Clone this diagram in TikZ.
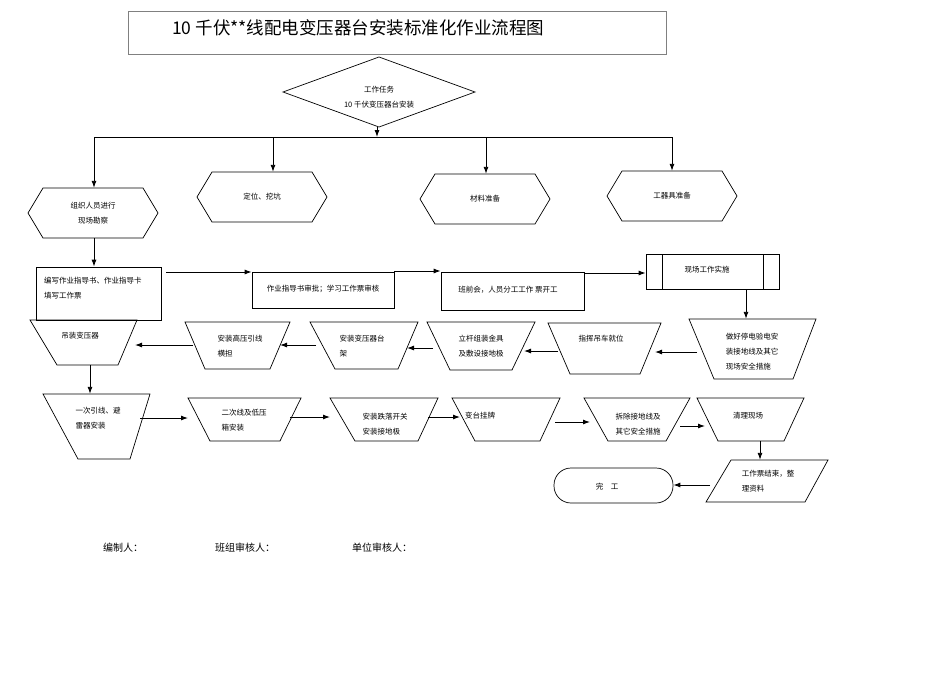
\documentclass[tikz,border=0pt]{standalone}
\usepackage{fontspec}
\newfontfamily\cjk{Noto Sans CJK SC}
\usetikzlibrary{arrows.meta,fit}
\begin{document}
\begin{tikzpicture}[x=1pt,y=-1pt,
  ar/.style={-{Latex[length=7pt,width=5pt]},line width=0.9pt},
  sh/.style={draw,line width=0.7pt},
  tx/.style={font=\cjk\fontsize{7.5}{15}\selectfont,align=left,inner sep=0},
  bx/.style={inner sep=0pt}]
\useasboundingbox (0,0) rectangle (950,672);
\newcommand\tp[7]{\draw[sh] (#2,#4)--(#3,#4)--(#6,#7)--(#5,#7)--cycle;
  \node[bx,fit={(#2,#4) (#3,#7)}] (#1) {};}
\newcommand\hx[5]{\draw[sh] (#2,#4)--(#2+15,#4-25)--(#3-15,#4-25)--(#3,#4)--(#3-15,#4+25)--(#2+15,#4+25)--cycle;
  \node[bx,fit={(#2,#4-25) (#3,#4+25)}] (#1) {}; \node[tx,align=center] at (#1) {#5};}
% title
\node[draw=gray,line width=0.5pt,minimum width=538,minimum height=43,inner sep=0] (title) at (397,32.5) {};
\node[font=\cjk\fontsize{17.5}{19}\selectfont,anchor=west,inner sep=0] (tt) at (172,28) {10 千伏**线配电变压器台安装标准化作业流程图};
% top diamond
\draw[sh] (283,92)--(379,57)--(475,92)--(379,127)--cycle;
\node[bx,fit={(283,57) (475,127)}] (task) {};
\node[tx,align=center] (tasktxt) at (379,97) {工作任务\\10 千伏变压器台安装};
\coordinate (j) at (377,137);
\draw[ar] (task.south -| j) -- (j);
\draw[line width=0.9pt] (94,137) -- (672,137);
% hexagons
\hx{h1}{28}{158}{213}{组织人员进行\\现场勘察}
\hx{h2}{197}{327}{197}{定位、挖坑}
\hx{h3}{420}{550}{199}{材料准备}
\hx{h4}{607}{737}{196}{工器具准备}
\draw[ar] (94,137) -- (h1.north -| 94,0);
\draw[ar] (273,137) -- (h2.north -| 273,0);
\draw[ar] (486,137) -- (h3.north -| 486,0);
\draw[ar] (672,137) -- (h4.north -| 672,0);
% rects
\node[sh,bx,fit={(36,267) (161,320)}] (r1) {};
\node[tx,anchor=north west] at (44,277) {编写作业指导书、作业指导卡\\填写工作票};
\draw[ar] (h1.south -| 94,0) -- (r1.north -| 94,0);
\node[sh,bx,fit={(252,272) (394,308)}] (r2) {};
\node[tx] at (323,289) {作业指导书审批；学习工作票审核};
\node[sh,bx,fit={(441,272) (584,310)}] (r3) {};
\node[tx] at (508,290) {班前会，人员分工工作\ 票开工};
\node[sh,bx,fit={(646,254) (779,289)}] (r4) {};
\draw[sh] (662,254)--(662,289) (763,254)--(763,289);
\node[tx] at (707,270) {现场工作实施};
\draw[ar] (166,272) -- (r2.west |- 0,272);
\draw[ar] (r2.east |- 0,271) -- (r3.west |- 0,271);
\draw[ar] (r3.east |- 0,273) -- (r4.west |- 0,273);
% row 2
\tp{a1}{30}{137}{320}{57}{118}{365}
\node[tx] at (80,336) {吊装变压器};
\tp{a2}{185}{290}{322}{205}{270}{369}
\node[tx] at (240,346) {安装高压引线\\横担};
\tp{a3}{310}{418}{322}{335}{398}{369}
\node[tx] at (362,346) {安装变压器台\\架};
\tp{a4}{427}{535}{322}{450}{512}{370}
\node[tx] at (481,346) {立杆组装金具\\及敷设接地极};
\tp{a5}{548}{661}{323}{570}{640}{374}
\node[tx] at (601,339) {指挥吊车就位};
\tp{a6}{689}{816}{319}{714}{793}{379}
\node[tx] at (752,352) {做好停电验电安\\装接地线及其它\\现场安全措施};
\draw[ar] (r4.south -| 746,0) -- (a6.north -| 746,0);
\draw[ar] (697,352) -- (655,352);
\draw[ar] (558,351) -- (524,351);
\draw[ar] (433,348) -- (407,348);
\draw[ar] (316,345) -- (280,345);
\draw[ar] (193,345) -- (135,345);
% row 3
\tp{b1}{43}{150}{394}{78}{130}{459}
\node[tx] at (98,418) {一次引线、避\\雷器安装};
\tp{b2}{188}{301}{398}{210}{280}{441}
\node[tx] at (244,420) {二次线及低压\\箱安装};
\tp{b3}{330}{438}{398}{355}{418}{441}
\node[tx] at (385,424) {安装跌落开关\\安装接地极};
\tp{b4}{452}{560}{398}{475}{540}{441}
\node[tx] at (480,416) {变台挂牌};
\tp{b5}{584}{690}{398}{608}{666}{441}
\node[tx] at (638,424) {拆除接地线及\\其它安全措施};
\tp{b6}{697}{804}{398}{718}{784}{441}
\node[tx] at (748,416) {清理现场};
\draw[ar] (a1.south -| 90,0) -- (b1.north -| 90,0);
\draw[ar] (140,418) -- (188,418);
\draw[ar] (290,417) -- (330,417);
\draw[ar] (428,417) -- (460,417);
\draw[ar] (555,422) -- (590,422);
\draw[ar] (680,426) -- (705,426);
% end
\draw[sh] (731,460)--(828,460)--(805,502)--(706,502)--cycle;
\node[bx,fit={(706,460) (828,502)}] (p) {};
\node[tx] at (768,481) {工作票结束，整\\理资料};
\node[sh,bx,rounded corners=17pt,fit={(554,468) (673,503)}] (done) {};
\node[tx] at (607,487) {完\quad 工};
\draw[ar] (b6.south -| 760,0) -- (p.north -| 760,0);
\draw[ar] (710,485) -- (done.east |- 0,485);
% footer
\node[font=\cjk\fontsize{10}{11}\selectfont,anchor=west,inner sep=0] (f1) at (103,548) {编制人：};
\node[font=\cjk\fontsize{10}{11}\selectfont,anchor=west,inner sep=0] (f2) at (215,548) {班组审核人：};
\node[font=\cjk\fontsize{10}{11}\selectfont,anchor=west,inner sep=0] (f3) at (352,548) {单位审核人：};
\end{tikzpicture}
\end{document}
